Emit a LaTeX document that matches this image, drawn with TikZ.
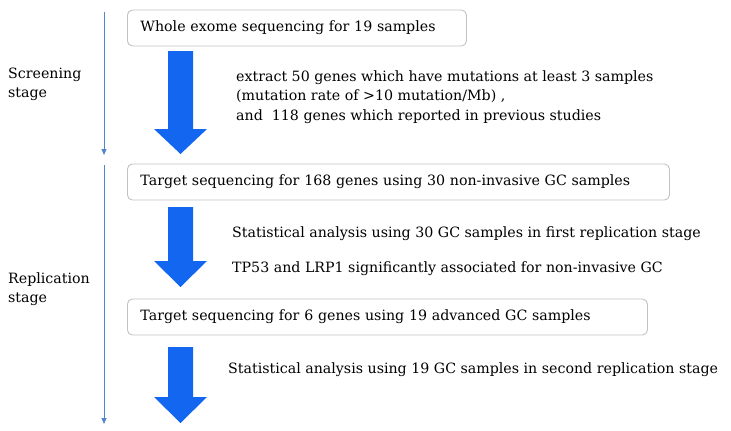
\documentclass[tikz,border=0pt]{standalone}
\usepackage{fontspec}
\setmainfont{DejaVu Serif}
\usetikzlibrary{arrows.meta}
\definecolor{bigblue}{RGB}{18,102,240}
\definecolor{thinblue}{RGB}{80,135,200}
\definecolor{boxgray}{RGB}{195,195,195}
\newcommand{\fatarrow}[4]{% x, top, headbase, tip
  \fill[bigblue] (#1-12.5,#2) -- (#1+12.5,#2) -- (#1+12.5,#3) -- (#1+26.5,#3)
    -- (#1,#4) -- (#1-26.5,#3) -- (#1-12.5,#3) -- cycle;}
\begin{document}
\begin{tikzpicture}[x=1pt,y=-1pt,
  every node/.style={font=\fontsize{14.2}{19}\selectfont, inner sep=0pt},
  stepbox/.style={draw=boxgray, line width=0.9pt, rounded corners=5pt, fill=white,
    minimum height=36pt, anchor=west, align=left, inner xsep=13pt},
  lbl/.style={anchor=base west},
  stagelbl/.style={anchor=west, align=left},
  stagearrow/.style={thinblue, line width=0.8pt, -{Triangle[length=6pt,width=5pt]}}]
\useasboundingbox (0,0) rectangle (731,431);
% stage arrows
\coordinate (s1top) at (104,12);
\coordinate (s1bot) at (104,155);
\coordinate (s2top) at (104,165);
\coordinate (s2bot) at (104,424);
\draw[stagearrow] (s1top) -- (s1bot);
\draw[stagearrow] (s2top) -- (s2bot);
\node[stagelbl] (screen) at (8,84) {Screening\\stage};
\node[stagelbl] (repl) at (8,289.5) {Replication\\stage};
% boxes
\node[stepbox, text width=313pt] (b1) at (127,28) {Whole exome sequencing for 19 samples};
\node[stepbox, text width=516pt] (b2) at (127,182) {Target sequencing for 168 genes using 30 non-invasive GC samples};
\node[stepbox, text width=494pt] (b3) at (127,317) {Target sequencing for 6 genes using 19 advanced GC samples};
% big arrows
\fatarrow{180.5}{51}{129}{154}
\fatarrow{180.5}{207}{261}{287}
\fatarrow{180.5}{347}{397}{423}
% texts
\node[lbl] (t1) at (236,81) {extract 50 genes which have mutations at least 3 samples};
\node[lbl] (t2) at (236,100.5) {(mutation rate of >10 mutation/Mb) ,};
\node[lbl] (t3) at (236,120) {and\ \ 118 genes which reported in previous studies};
\node[lbl] (t4) at (232,237) {Statistical analysis using 30 GC samples in first replication stage};
\node[lbl] (t5) at (232,272) {TP53 and LRP1 significantly associated for non-invasive GC};
\node[lbl] (t6) at (228,373) {Statistical analysis using 19 GC samples in second replication stage};
\end{tikzpicture}
\end{document}
